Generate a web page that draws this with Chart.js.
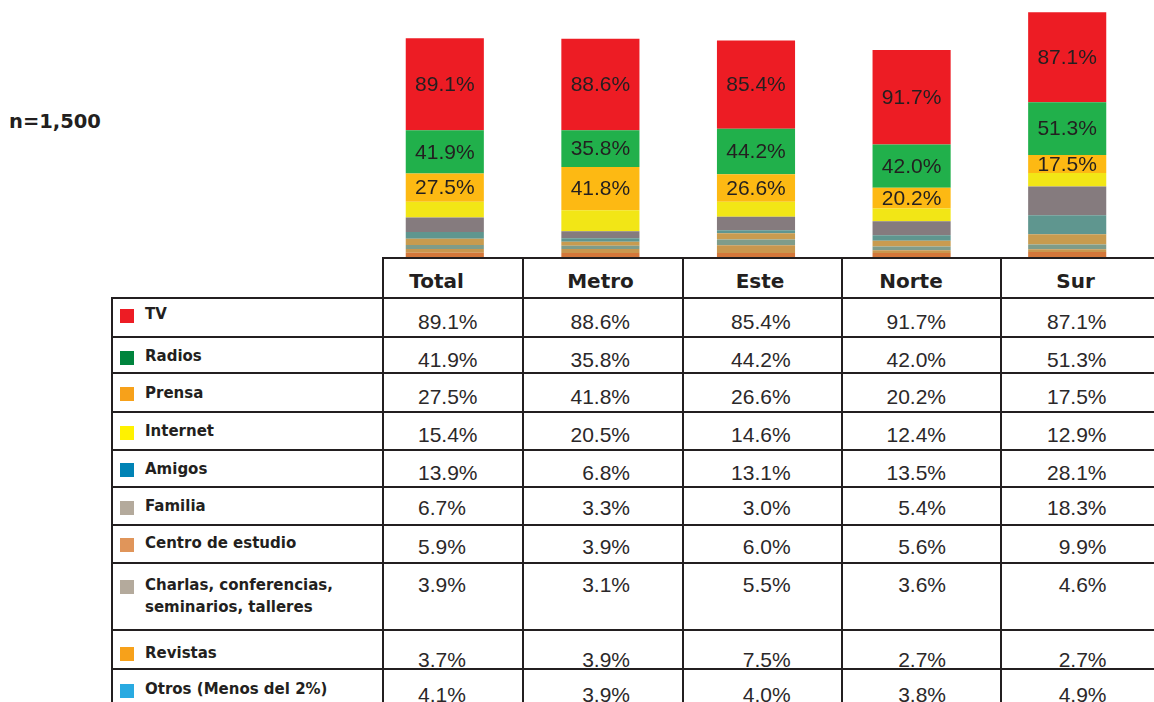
<!DOCTYPE html>
<html>
<head>
<meta charset="utf-8">
<script src="https://cdn.jsdelivr.net/npm/chart.js@4/dist/chart.umd.min.js"></script>
<style>
  html, body { margin: 0; padding: 0; background: #fff; }
  body { width: 1154px; height: 702px; position: relative; overflow: hidden; }
  #bars { position: absolute; left: 367px; top: 0; }
  .abs { position: absolute; white-space: nowrap; color: #231f20; }
  .line { position: absolute; background: #231f20; }
  .n { font: bold 19.5px "DejaVu Sans"; line-height: 20px; }
  .head { font: bold 20px "DejaVu Sans"; line-height: 20px; transform: translateX(-50%); }
  .lab { font: bold 15px "DejaVu Sans"; line-height: 22px; white-space: normal; width: 230px; }
  .val { font: 21px "Liberation Sans"; line-height: 21px; color: #2b2829; }
  .sq { position: absolute; width: 14px; height: 14px; }
</style>
</head>
<body>
<canvas id="bars" width="778" height="257"></canvas>
<div id="table"></div>
<script>
'use strict';

// ── Data ──────────────────────────────────────────────────────────────────────
const COLUMNS  = ['Total', 'Metro', 'Este', 'Norte', 'Sur'];
const MEDIA    = ['TV', 'Radios', 'Prensa', 'Internet', 'Amigos', 'Familia',
                  'Centro de estudio', 'Charlas, conferencias, seminarios, talleres',
                  'Revistas', 'Otros (Menos del 2%)'];
const TV       = [89.1, 88.6, 85.4, 91.7, 87.1];
const RADIOS   = [41.9, 35.8, 44.2, 42.0, 51.3];
const PRENSA   = [27.5, 41.8, 26.6, 20.2, 17.5];
const INTERNET = [15.4, 20.5, 14.6, 12.4, 12.9];
const AMIGOS   = [13.9,  6.8, 13.1, 13.5, 28.1];
const FAMILIA  = [ 6.7,  3.3,  3.0,  5.4, 18.3];
const CENTRO   = [ 5.9,  3.9,  6.0,  5.6,  9.9];
const CHARLAS  = [ 3.9,  3.1,  5.5,  3.6,  4.6];
const REVISTAS = [ 3.7,  3.9,  7.5,  2.7,  2.7];
const OTROS    = [ 4.1,  3.9,  4.0,  3.8,  4.9];
const SERIES   = [TV, RADIOS, PRENSA, INTERNET, AMIGOS, FAMILIA, CENTRO, CHARLAS, REVISTAS, OTROS];
const SAMPLE   = 'n=1,500';

// ── Styles ────────────────────────────────────────────────────────────────────
const BAR_COLORS = ['#ed1c24', '#21b04b', '#fdb913', '#f2e616', '#857b7e',
                    '#5f968f', '#c89b4f', '#7f9c8a', '#c9974e', '#d4773a'];
const KEY_COLORS = ['#ed1c24', '#00843d', '#f7a11a', '#fff200', '#0083b5',
                    '#b4aa9c', '#e0955a', '#b4aa9c', '#f7a11a', '#29aae1'];
const LABELLED   = 3;   // TV, Radios, Prensa get numbers inside the bar

// table layout (px)
const ROW_EDGES  = [258, 297.7, 336.7, 373.3, 411.7, 450, 487.3, 525, 563.3, 630, 669, 720];
const COL_EDGES  = [112, 383, 523, 683, 842, 1001];
const HEAD_X     = [436.5, 600.5, 760, 911, 1075.5];
const LABEL_TOP  = [308.3, 350, 386.7, 425, 462.7, 500, 537.3, 579.3, 646.7, 683.3];
const VALUE_TOP  = [313.3, 351.7, 388.3, 426.7, 465, 500, 538.3, 576.7, 651.7, 686.7];
const VALUE_LEFT = 418;                       // Total column is left aligned
const VALUE_RIGHT = [null, 630, 790.6, 946, 1106.5];

// ── Bars ──────────────────────────────────────────────────────────────────────
const barLabels = {
  id: 'barLabels',
  afterDatasetsDraw(chart) {
    const ctx = chart.ctx;
    ctx.save();
    ctx.font = '21px "Liberation Sans"';
    ctx.fillStyle = '#231f20';
    ctx.textAlign = 'center';
    ctx.textBaseline = 'middle';
    chart.data.datasets.forEach((ds, i) => {
      if (!ds.showLabel) return;
      chart.getDatasetMeta(i).data.forEach((bar, j) => {
        const p = bar.getProps(['x', 'y', 'base'], true);
        ctx.fillText(ds.data[j].toFixed(1) + '%', p.x, (p.y + p.base) / 2 + 1);
      });
    });
    ctx.restore();
  }
};

// stacked from the bottom up, so TV goes last
const datasets = MEDIA.map((m, i) => ({
  label:           m,
  data:            SERIES[i],
  backgroundColor: BAR_COLORS[i],
  borderWidth:     0,
  barPercentage:   0.502,
  categoryPercentage: 1,
  showLabel:       i < LABELLED,
})).reverse();

new Chart(document.getElementById('bars'), {
  type: 'bar',
  data: { labels: COLUMNS, datasets },
  options: {
    responsive: false,
    animation: false,
    devicePixelRatio: 1,
    layout: { padding: 0 },
    plugins: { legend: { display: false }, tooltip: { enabled: false } },
    scales: {
      x: { stacked: true, display: false },
      y: { stacked: true, display: false, min: 0, max: 249.3 }
    }
  },
  plugins: [barLabels]
});

// ── Table ─────────────────────────────────────────────────────────────────────
const table = document.getElementById('table');

function add(cls, text, style) {
  const d = document.createElement('div');
  d.className = cls;
  if (text != null) d.textContent = text;
  Object.assign(d.style, style);
  table.appendChild(d);
  return d;
}

// grid lines
ROW_EDGES.forEach((y, i) => {
  const x0 = i === 0 ? COL_EDGES[1] : COL_EDGES[0];
  add('line', null, { left: (x0 - 1) + 'px', top: (y - 1) + 'px', width: (1160 - x0) + 'px', height: '2px' });
});
COL_EDGES.forEach((x, i) => {
  const y0 = i === 0 ? ROW_EDGES[1] : ROW_EDGES[0];
  add('line', null, { left: (x - 1) + 'px', top: (y0 - 1) + 'px', width: '2px', height: (720 - y0) + 'px' });
});

// sample size
add('abs n', SAMPLE, { left: '9px', top: '112px' });

// header
COLUMNS.forEach((c, j) => {
  add('abs head', c, { left: HEAD_X[j] + 'px', top: '271px' });
});

// rows
MEDIA.forEach((m, i) => {
  add('sq', null, { left: '120px', top: (LABEL_TOP[i] + 0.5) + 'px', background: KEY_COLORS[i] });
  add('abs lab', m, { left: '145px', top: (LABEL_TOP[i] - 5.2) + 'px' });
  SERIES[i].forEach((v, j) => {
    const txt = v.toFixed(1) + '%';
    const top = (VALUE_TOP[i] - 2.8) + 'px';
    if (j === 0) {
      add('abs val', txt, { left: VALUE_LEFT + 'px', top });
    } else {
      add('abs val', txt, { right: (1154 - VALUE_RIGHT[j]) + 'px', top });
    }
  });
});
</script>
</body>
</html>
